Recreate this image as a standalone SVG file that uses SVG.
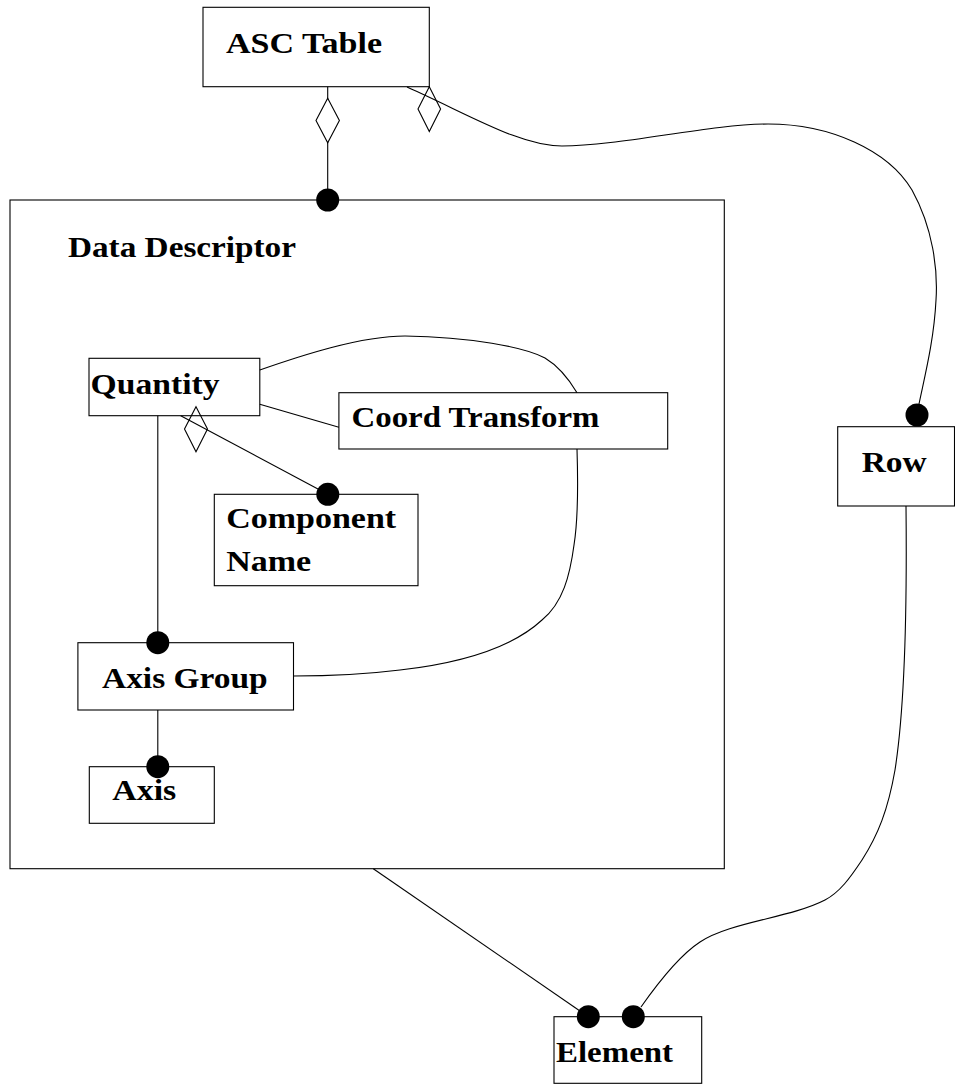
<svg xmlns="http://www.w3.org/2000/svg" width="955" height="1085" viewBox="0 0 955 1085">
<style>
.box{fill:#fff;stroke:#000;stroke-width:1.1}
.lbl{font-family:"Liberation Serif","Times New Roman",serif;font-weight:bold;font-size:30px;fill:#000}
.ln{fill:none;stroke:#000;stroke-width:1.1}
.dot{fill:#000;stroke:none}
.dia{fill:none;stroke:#000;stroke-width:1.1}
.diaw{fill:#fff;stroke:#000;stroke-width:1.1}
</style>
<rect x="0" y="0" width="955" height="1085" fill="#fff"/>
<g id="node-data-descriptor">
<rect class="box" x="10" y="200" width="714.3" height="668.7"/>
<text class="lbl" x="68" y="256.7" textLength="228" lengthAdjust="spacingAndGlyphs">Data Descriptor</text>
</g>
<g id="node-asc-table">
<rect class="box" x="203" y="7.3" width="226.3" height="79.4"/>
<text class="lbl" x="226" y="53" textLength="156" lengthAdjust="spacingAndGlyphs">ASC Table</text>
</g>
<g id="node-quantity">
<rect class="box" x="89" y="358.3" width="170.8" height="57.4"/>
<text class="lbl" x="90.6" y="394" textLength="129" lengthAdjust="spacingAndGlyphs">Quantity</text>
</g>
<g id="node-coord-transform">
<rect class="box" x="338.9" y="392.7" width="328.8" height="56.3"/>
<text class="lbl" x="351.5" y="426.7" textLength="248" lengthAdjust="spacingAndGlyphs">Coord Transform</text>
</g>
<g id="node-component-name">
<rect class="box" x="214.3" y="494.3" width="203.7" height="91.4"/>
<text class="lbl" x="226.2" y="528.3" textLength="170" lengthAdjust="spacingAndGlyphs">Component</text>
<text class="lbl" x="226.2" y="570.7" textLength="85" lengthAdjust="spacingAndGlyphs">Name</text>
</g>
<g id="node-axis-group">
<rect class="box" x="77.9" y="642.7" width="215.6" height="67.3"/>
<text class="lbl" x="102" y="688.3" textLength="165.6" lengthAdjust="spacingAndGlyphs">Axis Group</text>
</g>
<g id="node-axis">
<rect class="box" x="89.3" y="766.7" width="125" height="56.6"/>
<text class="lbl" x="112.3" y="800" textLength="64" lengthAdjust="spacingAndGlyphs">Axis</text>
</g>
<g id="node-row">
<rect class="box" x="837.7" y="426.7" width="116.8" height="79.3"/>
<text class="lbl" x="861.7" y="471.7" textLength="65" lengthAdjust="spacingAndGlyphs">Row</text>
</g>
<g id="node-element">
<rect class="box" x="554" y="1016.7" width="147.7" height="66.6"/>
<text class="lbl" x="556" y="1061.7" textLength="117" lengthAdjust="spacingAndGlyphs">Element</text>
</g>
<g id="connectors">
<line class="ln" x1="327.7" y1="86.7" x2="327.7" y2="200"/>
<polygon class="diaw" points="327.7,98.3 339.4,120.5 327.7,142.7 316,120.5"/>
<circle class="dot" cx="327.7" cy="200" r="11.5"/>
<path class="ln" d="M407,87 C470,115 520,146 562,146 C620,146 710,124 768,124 C830,124 888,150 912,190 C933,228 938,270 936,300 C934,340 925,375 919,404"/>
<polygon class="dia" points="429.3,86.7 440.6,109 429.3,131.5 418,109"/>
<circle class="dot" cx="917" cy="415" r="11.5"/>
<line class="ln" x1="180.7" y1="415.7" x2="327.8" y2="494.3"/>
<polygon class="dia" points="196,406.7 207.5,429 196,451.7 184.5,429"/>
<circle class="dot" cx="327.8" cy="494.3" r="11.5"/>
<line class="ln" x1="157.8" y1="415.7" x2="157.8" y2="642.7"/>
<circle class="dot" cx="157.8" cy="642.7" r="11.5"/>
<line class="ln" x1="259.8" y1="404.3" x2="338.9" y2="427.3"/>
<path class="ln" d="M259.8,370 C300,356 360,336 405,336 C470,337 525,347 545,358 C560,367 570,381 577,392.7"/>
<path class="ln" d="M577,449 C578,480 578,520 574,545 C570,575 563,603 542,620 C515,645 470,662 400,670 C360,675 320,676 293.5,676"/>
<line class="ln" x1="157.8" y1="710" x2="157.8" y2="766.7"/>
<circle class="dot" cx="157.8" cy="766.7" r="11.5"/>
<line class="ln" x1="373.3" y1="868.7" x2="588.3" y2="1016.7"/>
<circle class="dot" cx="588.3" cy="1016.7" r="11.5"/>
<path class="ln" d="M906,506 C907,600 906,700 895,770 C888,810 878,835 862,860 C850,878 840,892 825,900 C790,918 730,922 700,942 C680,955 660,980 641,1007"/>
<circle class="dot" cx="633.3" cy="1016.7" r="11.5"/>
</g>
</svg>
